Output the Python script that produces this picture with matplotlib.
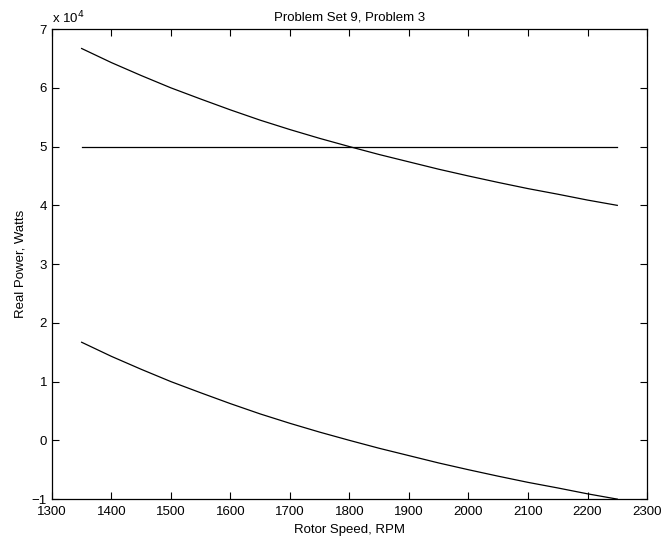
import matplotlib.pyplot as plt
from matplotlib.ticker import FuncFormatter

plt.rcParams['font.family'] = ['Liberation Sans', 'DejaVu Sans']

# values
rpm = [1350, 1400, 1450, 1500, 1550, 1600, 1650, 1700, 1750, 1800,
       1850, 1900, 1950, 2000, 2050, 2100, 2150, 2200, 2250]
power_top = [66700, 64300, 62100, 60000, 58100, 56250, 54500, 52900, 51400, 50000,
             48650, 47400, 46150, 45000, 43900, 42850, 41900, 40900, 40000]
power_bottom = [16700, 14300, 12100, 10000, 8100, 6250, 4500, 2900, 1400, 0,
                -1350, -2600, -3850, -5000, -6100, -7150, -8100, -9100, -10000]
flat_rpm = [1350, 2250]
flat_power = [50000, 50000]

fig = plt.figure(figsize=(6.65, 5.39), dpi=100)
ax = fig.add_axes([0.078, 0.074, 0.895, 0.872])

ax.plot(rpm, power_top, color='black', linewidth=0.9)
ax.plot(flat_rpm, flat_power, color='black', linewidth=0.9)
ax.plot(rpm, power_bottom, color='black', linewidth=0.9)

ax.set_xlim(1300, 2300)
ax.set_ylim(-10000, 70000)
ax.set_xticks(range(1300, 2301, 100))
ax.set_yticks(range(-10000, 70001, 10000))
ax.yaxis.set_major_formatter(FuncFormatter(lambda v, p: f"{v / 1e4:g}".replace('-', '\u2212')))
ax.tick_params(direction='in', top=True, right=True, labelsize=9.5, length=5)
ax.tick_params(axis='x', pad=5)
for s in ax.spines.values():
    s.set_linewidth(0.9)

ax.text(0.0, 1.005, 'x 10$^4$', transform=ax.transAxes, fontsize=9.5, va='bottom', ha='left')
ax.set_title('Problem Set 9, Problem 3', fontsize=9.5, pad=6)
ax.set_xlabel('Rotor Speed, RPM', fontsize=9.5, labelpad=4)
ax.set_ylabel('Real Power, Watts', fontsize=9.5, labelpad=4)

plt.savefig('out.png', dpi=100)
